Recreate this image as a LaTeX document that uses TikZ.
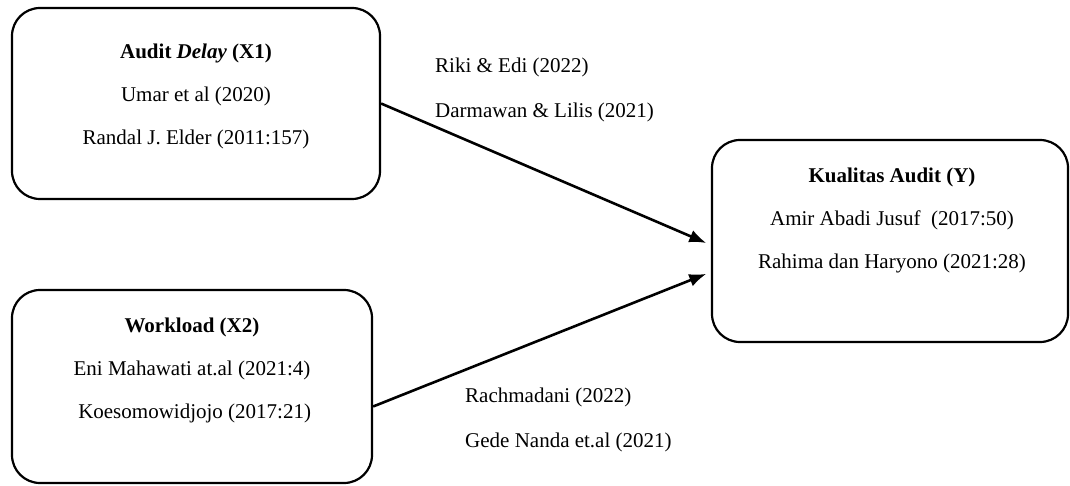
\documentclass[tikz,border=0pt]{standalone}
\usepackage{fontspec}
\setmainfont{Liberation Serif}
\usetikzlibrary{positioning}
\usetikzlibrary{arrows.meta}

\begin{document}
\begin{tikzpicture}[
			x=1pt, y=-1pt,
			var/.style={draw, line width=2.2pt, rounded corners=28pt, inner sep=0pt},
			txt/.style={align=center, inner sep=0pt, font=\fontsize{21}{43}\selectfont},
			ref/.style={align=left, anchor=west, inner sep=0pt, font=\fontsize{21}{45}\selectfont},
			link/.style={line width=2.6pt, -{Latex[length=17pt,width=13pt]}, shorten >=5pt}
		]
			\useasboundingbox (0,0) rectangle (1070,486);
			\node[var, minimum width=368pt, minimum height=191pt] (X1) at (196,103.5) {};
			\node[txt] (X1txt) at (196,96) {\textbf{Audit \textit{Delay} (X1)}\\Umar et al (2020)\\Randal J. Elder (2011:157)};
			\node[var, minimum width=360pt, minimum height=193pt] (X2) at (192,386.5) {};
			\node[txt] (X2txt) at (192,370) {\textbf{Workload (X2)}\\Eni Mahawati at.al (2021:4)\\\ Koesomowidjojo (2017:21)};
			\node[var, minimum width=356pt, minimum height=202pt] (Y) at (890,241) {};
			\node[txt] (Ytxt) at (892,220) {\textbf{Kualitas Audit (Y)}\\Amir Abadi Jusuf~ (2017:50)\\Rahima dan Haryono (2021:28)};
			\node[ref] (refA) at (435,89.5) {Riki \& Edi (2022)\\Darmawan \& Lilis (2021)};
			\node[ref] (refB) at (465,420) {Rachmadani (2022)\\Gede Nanda et.al (2021)};
			\draw[link] (X1.east) -- ([yshift=-4pt]Y.west);
			\draw[link] ([yshift=-20pt]X2.east) -- ([yshift=-31pt]Y.west);
		\end{tikzpicture}
\end{document}
